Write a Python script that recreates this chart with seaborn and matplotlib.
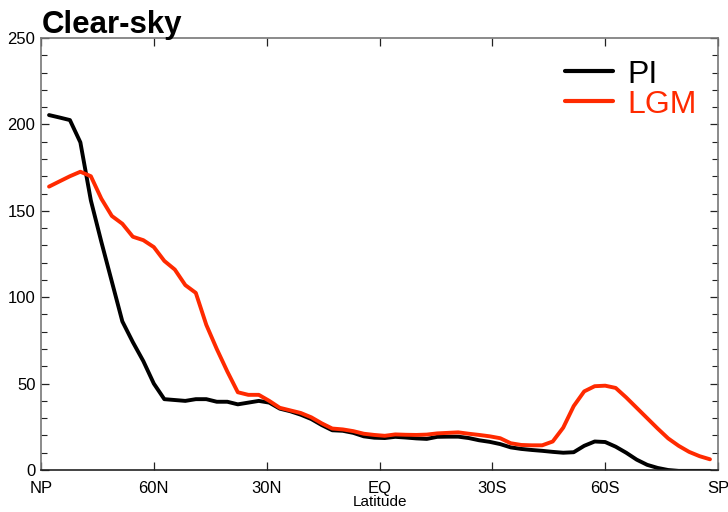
import numpy as np
import pandas as pd
import matplotlib
matplotlib.use("Agg")
import matplotlib.pyplot as plt
from matplotlib.ticker import MultipleLocator
import seaborn as sns

# T42 gaussian latitudes, north to south
lats = [87.86, 85.10, 82.31, 79.53, 76.74, 73.95, 71.16, 68.37, 65.58, 62.79,
        60.00, 57.21, 54.42, 51.63, 48.84, 46.05, 43.26, 40.46, 37.67, 34.88,
        32.09, 29.30, 26.51, 23.72, 20.93, 18.14, 15.35, 12.56, 9.77, 6.98,
        4.19, 1.40, -1.40, -4.19, -6.98, -9.77, -12.56, -15.35, -18.14, -20.93,
        -23.72, -26.51, -29.30, -32.09, -34.88, -37.67, -40.46, -43.26, -46.05, -48.84,
        -51.63, -54.42, -57.21, -60.00, -62.79, -65.58, -68.37, -71.16, -73.95, -76.74,
        -79.53, -82.31, -85.10, -87.86]

pi_vals = [205.4, 204.0, 202.5, 189.6, 156.0, 132.0, 109.0, 86.0, 74.0, 63.0,
           50.0, 41.0, 40.5, 40.0, 41.0, 41.0, 39.5, 39.5, 38.0, 39.0,
           40.0, 39.0, 35.5, 34.0, 32.0, 29.5, 26.0, 23.0, 22.7, 21.5,
           19.5, 18.7, 18.5, 19.2, 18.8, 18.3, 18.0, 19.2, 19.3, 19.3,
           18.5, 17.2, 16.3, 15.0, 13.1, 12.2, 11.6, 11.1, 10.5, 10.0,
           10.3, 14.0, 16.5, 16.2, 13.5, 10.0, 6.0, 3.0, 1.2, 0.0,
           -0.5, -0.5, -0.5, -0.5]

lgm_vals = [164.0, 167.0, 170.0, 172.6, 170.0, 157.0, 147.0, 142.5, 135.0, 133.0,
            129.0, 121.0, 116.0, 107.0, 102.5, 84.0, 70.0, 57.0, 45.0, 43.5,
            43.5, 40.0, 36.0, 34.5, 33.0, 30.5, 27.0, 24.0, 23.5, 22.5,
            21.0, 20.3, 19.8, 20.6, 20.4, 20.3, 20.5, 21.2, 21.5, 21.8,
            21.0, 20.3, 19.5, 18.4, 15.5, 14.5, 14.3, 14.3, 16.5, 24.5,
            37.0, 45.5, 48.5, 48.8, 47.5, 42.0, 36.0, 30.0, 24.0, 18.3,
            14.0, 10.5, 8.0, 6.2]

tick_pos = [90, 60, 30, 0, -30, -60, -90]
tick_labels = ["NP", "60N", "30N", "EQ", "30S", "60S", "SP"]

df = pd.concat([
    pd.DataFrame({"lat": lats, "value": pi_vals, "run": "PI"}),
    pd.DataFrame({"lat": lats, "value": lgm_vals, "run": "LGM"}),
])

sns.set_style("ticks")
plt.rcParams["font.family"] = ["Liberation Sans", "DejaVu Sans"]
plt.rcParams["text.color"] = "black"
plt.rcParams["axes.labelcolor"] = "black"
plt.rcParams["xtick.color"] = "black"
plt.rcParams["ytick.color"] = "black"

red = "#ff2a00"

fig = plt.figure(figsize=(7.28, 5.12), dpi=100)
ax = fig.add_axes([0.0563, 0.082, 0.93, 0.8438])

sns.lineplot(data=df, x="lat", y="value", hue="run", sort=False,
             palette={"PI": "black", "LGM": red},
             linewidth=2.8, ax=ax, legend=False)

ax.set_xlim(90, -90)
ax.set_ylim(0, 250)
ax.set_xticks(tick_pos)
ax.set_xticklabels(tick_labels, fontsize=12)
ax.yaxis.set_major_locator(MultipleLocator(50))
ax.yaxis.set_minor_locator(MultipleLocator(10))
ax.tick_params(axis="y", labelsize=12, pad=4)
ax.tick_params(axis="x", pad=8)
ax.tick_params(which="both", direction="in", top=True, right=True, color="#222222")
ax.tick_params(which="major", length=6, width=0.9)
ax.tick_params(which="minor", length=4, width=0.8)
ax.set_xlabel("Latitude", fontsize=11, labelpad=-1)
ax.set_ylabel("")

for side in ["left", "top", "right"]:
    ax.spines[side].set_color("#777777")
    ax.spines[side].set_linewidth(1.2)
ax.spines["bottom"].set_color("#222222")
ax.spines["bottom"].set_linewidth(1.2)

# legend
h_pi, = ax.plot([], [], color="black", linewidth=3, label="PI")
h_lgm, = ax.plot([], [], color=red, linewidth=3, label="LGM")
ax.legend(handles=[h_pi, h_lgm], loc="upper right", bbox_to_anchor=(0.968, 0.95),
          frameon=False, fontsize=23, handlelength=1.5, handletextpad=0.45,
          labelspacing=0.0, borderpad=0, borderaxespad=0,
          labelcolor="linecolor")

fig.text(0.058, 0.935, "Clear-sky", fontsize=22.5, fontweight="bold",
         ha="left", va="baseline")

fig.savefig("out.png", dpi=100)
